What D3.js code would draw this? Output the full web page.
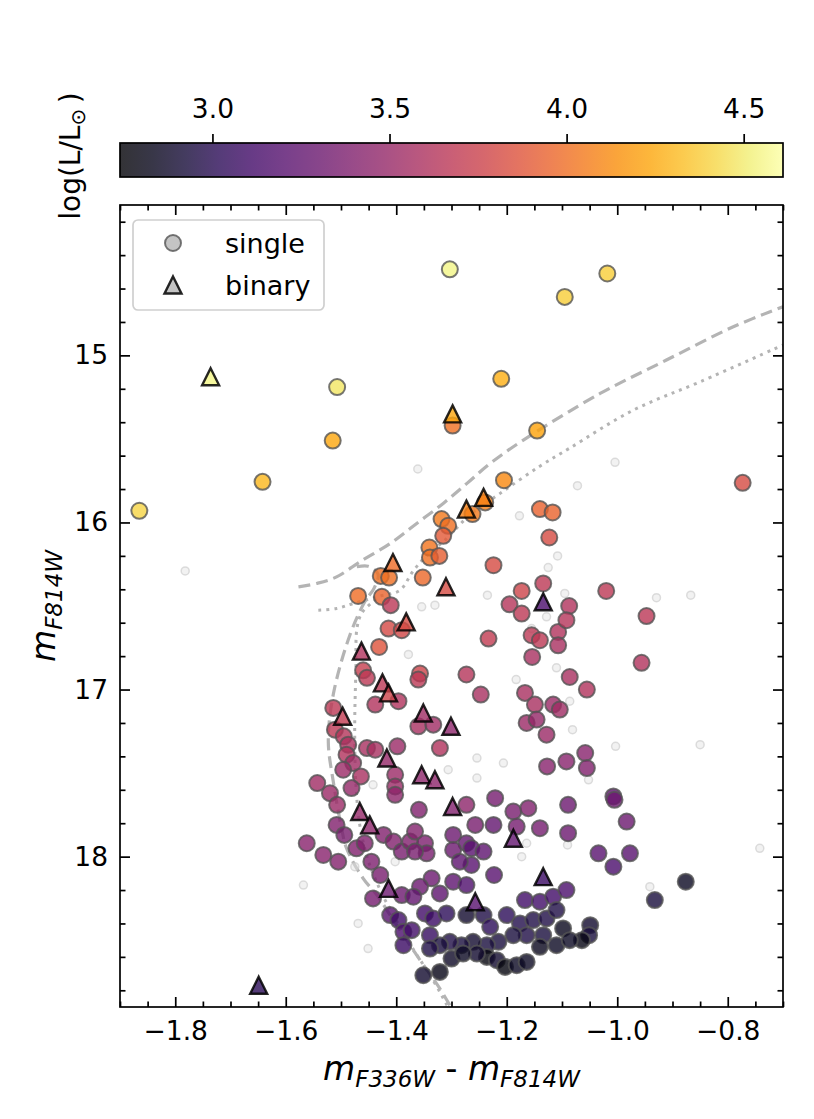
<!DOCTYPE html>
<html>
<head>
<meta charset="utf-8">
<script src="https://cdn.jsdelivr.net/npm/d3@7"></script>
<style>
  body { margin: 0; background: #fff; }
  text { font-family: "DejaVu Sans", sans-serif; }
</style>
</head>
<body>
<div id="chart"></div>
<script>

// colour index, magnitude, log(L/Lsun)
const singleStars = [
    [-1.303, 14.485, 4.55], [-1.018, 14.51, 4.39], [-1.095, 14.65, 4.39], [-1.507, 15.19, 4.48],
    [-1.210, 15.14, 4.27], [-1.298, 15.42, 4.01], [-1.515, 15.51, 4.24], [-1.145, 15.45, 4.22],
    [-1.865, 15.93, 4.42], [-1.642, 15.757, 4.30], [-0.773, 15.763, 3.82], [-1.205, 15.747, 4.12],
    [-1.318, 15.98, 4.05], [-1.306, 16.02, 4.01], [-1.315, 16.08, 3.90], [-1.262, 15.95, 4.05],
    [-1.239, 15.88, 4.08], [-1.340, 16.15, 4.03], [-1.339, 16.21, 4.01], [-1.322, 16.20, 3.92],
    [-1.428, 16.32, 4.01], [-1.413, 16.33, 4.01], [-1.352, 16.33, 3.97], [-1.469, 16.44, 4.00],
    [-1.426, 16.445, 3.95], [-1.410, 16.495, 3.67], [-1.140, 15.92, 3.94], [-1.117, 15.94, 3.95],
    [-1.123, 16.09, 3.82], [-1.224, 16.256, 3.82], [-1.134, 16.365, 3.68], [-1.173, 16.41, 3.77],
    [-1.020, 16.41, 3.68], [-1.195, 16.49, 3.64], [-1.087, 16.50, 3.62],
    [-1.414, 16.635, 3.80], [-1.390, 16.645, 3.79], [-1.431, 16.745, 3.86], [-1.460, 16.885, 3.73],
    [-1.453, 16.93, 3.68], [-1.438, 17.09, 3.62], [-1.396, 17.07, 3.62], [-1.357, 16.904, 3.77],
    [-1.360, 16.94, 3.68], [-1.233, 16.695, 3.71], [-1.273, 16.91, 3.64], [-1.247, 17.03, 3.58],
    [-1.360, 17.22, 3.58], [-1.333, 17.21, 3.54], [-1.514, 17.11, 3.68], [-1.511, 17.24, 3.68],
    [-1.495, 17.28, 3.64], [-1.487, 17.33, 3.60], [-1.490, 17.39, 3.62], [-1.478, 17.44, 3.54],
    [-1.496, 17.48, 3.52], [-1.464, 17.52, 3.58], [-1.543, 17.56, 3.54], [-1.481, 17.59, 3.49],
    [-1.520, 17.62, 3.52], [-1.507, 17.69, 3.52], [-1.508, 17.81, 3.39], [-1.494, 17.87, 3.36],
    [-1.562, 17.92, 3.43], [-1.532, 17.99, 3.43], [-1.505, 18.03, 3.41], [-1.453, 17.35, 3.58],
    [-1.438, 17.36, 3.58], [-1.398, 17.34, 3.52], [-1.402, 17.51, 3.52], [-1.402, 17.58, 3.52],
    [-1.402, 17.63, 3.45], [-1.321, 17.35, 3.62], [-1.359, 17.72, 3.39], [-1.273, 17.69, 3.45],
    [-1.221, 17.65, 3.34], [-1.188, 17.73, 3.36], [-1.161, 17.71, 3.39], [-1.257, 17.81, 3.36],
    [-1.224, 17.81, 3.26], [-1.182, 17.82, 3.34], [-1.140, 17.83, 3.34], [-1.089, 17.69, 3.30],
    [-1.089, 17.86, 3.30], [-1.472, 17.95, 3.39], [-1.457, 17.92, 3.39], [-1.445, 18.03, 3.38],
    [-1.429, 18.11, 3.36], [-1.423, 17.87, 3.39], [-1.405, 17.91, 3.39], [-1.390, 17.97, 3.36],
    [-1.375, 17.91, 3.39], [-1.366, 17.85, 3.41], [-1.348, 17.92, 3.38], [-1.345, 17.98, 3.36],
    [-1.366, 17.97, 3.36], [-1.297, 17.87, 3.30], [-1.273, 17.92, 3.26], [-1.264, 17.95, 3.21],
    [-1.242, 17.97, 3.24], [-1.297, 17.96, 3.30], [-1.264, 18.05, 3.21], [-1.285, 18.03, 3.24],
    [-1.336, 18.13, 3.30], [-1.357, 18.18, 3.30], [-1.442, 18.25, 3.34], [-1.390, 18.23, 3.30],
    [-1.369, 18.24, 3.26], [-1.321, 18.22, 3.24], [-1.297, 18.15, 3.24], [-1.273, 18.17, 3.17],
    [-1.223, 18.11, 3.21], [-1.167, 18.26, 3.11], [-1.140, 18.27, 3.11], [-1.116, 18.24, 3.11],
    [-1.092, 18.20, 3.15],
    [-1.173, 16.545, 3.68], [-1.155, 16.675, 3.68], [-1.140, 16.705, 3.68], [-1.107, 16.655, 3.62],
    [-1.092, 16.585, 3.64], [-1.107, 16.735, 3.58], [-1.154, 16.805, 3.58], [-1.086, 16.925, 3.58],
    [-1.167, 17.02, 3.58], [-1.149, 17.09, 3.58], [-1.116, 17.09, 3.52], [-1.104, 17.12, 3.54],
    [-1.164, 17.20, 3.52], [-1.146, 17.18, 3.49], [-1.128, 17.27, 3.52], [-1.127, 17.46, 3.43],
    [-1.092, 17.43, 3.43], [-0.947, 16.56, 3.67], [-0.956, 16.84, 3.62], [-1.055, 17.00, 3.62],
    [-1.058, 17.38, 3.43], [-1.055, 17.47, 3.39], [-1.007, 17.64, 3.24], [-1.005, 17.66, 3.30],
    [-0.983, 17.79, 3.30], [-1.034, 17.98, 3.21], [-0.977, 17.98, 3.21], [-1.007, 18.06, 3.15],
    [-0.876, 18.15, 2.85], [-0.932, 18.26, 2.93], [-1.049, 18.41, 2.89], [-1.051, 18.47, 2.93],
    [-1.064, 18.50, 2.80], [-1.098, 18.43, 2.83],
    [-1.411, 18.35, 3.21], [-1.396, 18.38, 3.11], [-1.387, 18.45, 3.15], [-1.372, 18.44, 3.11],
    [-1.387, 18.53, 3.08], [-1.348, 18.34, 3.11], [-1.333, 18.37, 3.08], [-1.339, 18.47, 3.06],
    [-1.309, 18.34, 3.02], [-1.273, 18.35, 2.89], [-1.242, 18.35, 2.96], [-1.230, 18.42, 3.02],
    [-1.200, 18.35, 3.02], [-1.176, 18.40, 2.98], [-1.152, 18.38, 2.96], [-1.128, 18.37, 2.96],
    [-1.110, 18.32, 2.96], [-1.134, 18.47, 2.93], [-1.164, 18.47, 2.96], [-1.188, 18.47, 2.93],
    [-1.215, 18.51, 2.93], [-1.236, 18.53, 2.93], [-1.261, 18.51, 2.89], [-1.282, 18.53, 2.93],
    [-1.303, 18.51, 2.96], [-1.321, 18.53, 2.93], [-1.339, 18.55, 2.96], [-1.236, 18.60, 2.78],
    [-1.254, 18.58, 2.89], [-1.218, 18.62, 2.89], [-1.203, 18.66, 2.78], [-1.182, 18.65, 2.85],
    [-1.164, 18.63, 2.85], [-1.140, 18.54, 2.83], [-1.110, 18.53, 2.85], [-1.086, 18.50, 2.85],
    [-1.321, 18.69, 2.81], [-1.351, 18.71, 2.89], [-1.300, 18.61, 2.87], [-1.279, 18.58, 2.85]
];

const binaryStars = [
    [-1.736, 15.128, 4.55], [-1.298, 15.35, 4.24], [-1.273, 15.92, 4.09], [-1.242, 15.85, 4.09],
    [-1.406, 16.24, 3.99], [-1.310, 16.385, 3.82], [-1.134, 16.475, 3.15], [-1.382, 16.595, 3.82],
    [-1.463, 16.77, 3.62], [-1.425, 16.96, 3.68], [-1.414, 17.02, 3.77], [-1.351, 17.14, 3.54],
    [-1.301, 17.22, 3.45], [-1.497, 17.16, 3.71], [-1.417, 17.41, 3.49], [-1.354, 17.51, 3.45],
    [-1.330, 17.54, 3.45], [-1.466, 17.73, 3.49], [-1.448, 17.81, 3.45], [-1.298, 17.70, 3.39],
    [-1.188, 17.89, 3.26], [-1.414, 18.19, 3.30], [-1.257, 18.27, 3.21], [-1.134, 18.12, 3.08],
    [-1.649, 18.77, 3.02]
];

// faint field stars in the background
const fieldStars = [
    [-1.782, 16.29], [-1.361, 15.68], [-1.004, 15.64], [-1.072, 15.78], [-1.177, 15.96],
    [-1.108, 16.20], [-1.125, 16.27], [-1.235, 16.435], [-1.095, 16.425], [-0.929, 16.45],
    [-0.867, 16.435], [-1.354, 16.505], [-1.330, 16.495], [-1.378, 16.79], [-1.254, 17.41],
    [-1.206, 17.44], [-1.306, 17.48], [-1.254, 17.53], [-1.442, 17.57], [-1.164, 17.92],
    [-1.173, 18.00], [-1.402, 18.03], [-1.475, 18.06], [-1.469, 18.40], [-1.451, 18.55],
    [-1.128, 16.565], [-1.086, 17.07], [-1.110, 16.87], [-1.155, 16.635], [-1.081, 17.24],
    [-1.003, 17.34], [-0.850, 17.33], [-1.052, 17.54], [-0.742, 17.95], [-0.941, 18.18],
    [-1.090, 17.93], [-1.568, 18.17], [-1.183, 16.94]
];

// isochrones
const dashedLower = [
    [-1.303, 18.89], [-1.321, 18.79], [-1.363, 18.59], [-1.387, 18.47], [-1.411, 18.35],
    [-1.435, 18.23], [-1.460, 18.13], [-1.490, 17.95], [-1.499, 17.83], [-1.514, 17.55],
    [-1.523, 17.31], [-1.514, 17.03], [-1.484, 16.675], [-1.457, 16.475], [-1.440, 16.393],
    [-1.433, 16.31], [-1.451, 16.262], [-1.484, 16.274]
];
const dashedUpper = [
    [-1.577, 16.386], [-1.544, 16.365], [-1.508, 16.326], [-1.466, 16.236], [-1.411, 16.126],
    [-1.363, 16.006], [-1.315, 15.886], [-1.272, 15.766], [-1.230, 15.647], [-1.170, 15.507],
    [-1.031, 15.228], [-0.911, 15.028], [-0.790, 14.829], [-0.700, 14.709]
];
const dottedLower = [
    [-1.308, 18.89], [-1.335, 18.73], [-1.370, 18.55], [-1.402, 18.37], [-1.429, 18.20],
    [-1.451, 18.02], [-1.466, 17.81], [-1.473, 17.57], [-1.475, 17.33], [-1.475, 17.15],
    [-1.473, 16.88], [-1.471, 16.63], [-1.462, 16.54], [-1.444, 16.48], [-1.429, 16.441]
];
const dottedUpper = [
    [-1.541, 16.525], [-1.508, 16.515], [-1.478, 16.485], [-1.429, 16.441], [-1.393, 16.405],
    [-1.371, 16.298], [-1.348, 16.208], [-1.312, 16.106], [-1.267, 15.956], [-1.212, 15.826],
    [-1.140, 15.663], [-1.086, 15.555], [-0.971, 15.328], [-0.850, 15.158], [-0.700, 14.938]
];

const xMajorTicks = [-1.8, -1.6, -1.4, -1.2, -1.0, -0.8];
const yMajorTicks = [15, 16, 17, 18];
const colorbarTicks = [3.0, 3.5, 4.0, 4.5];
const legendLabels = ["single", "binary"];

// ---------------------------------------------------------------

let width = 814, height = 1119;
let plot = {left: 120, right: 783, top: 205, bottom: 1007};
let cbar = {top: 143, bottom: 177};

let svg = d3.select("#chart").append("svg")
    .attr("width", width)
    .attr("height", height);

svg.append("rect").attr("width", width).attr("height", height).attr("fill", "white");

let x = d3.scaleLinear().domain([-1.9, -0.7]).range([plot.left, plot.right]);
let y = d3.scaleLinear().domain([14.1, 18.9]).range([plot.top, plot.bottom]);
let cScale = d3.scaleLinear().domain([2.739, 4.611]).range([plot.left, plot.right]);
let colour = d3.scaleSequential(d3.interpolateInferno).domain([2.739, 4.611]);

// matplotlib style '^' marker (as wide as it is tall)
const mplTriangle = {
    draw(ctx, size) {
        let h = Math.sqrt(size) / 2;
        ctx.moveTo(0, -h);
        ctx.lineTo(h, h);
        ctx.lineTo(-h, h);
        ctx.closePath();
    }
};

// ---- colour bar
let defs = svg.append("defs");
let grad = defs.append("linearGradient").attr("id", "cbarGrad");
d3.range(0, 1.0001, 0.05).forEach(t => {
    grad.append("stop")
        .attr("offset", t)
        .attr("stop-color", d3.interpolateInferno(t))
        .attr("stop-opacity", 0.8);
});

svg.append("rect")
    .attr("x", plot.left)
    .attr("y", cbar.top)
    .attr("width", plot.right - plot.left)
    .attr("height", cbar.bottom - cbar.top)
    .attr("fill", "url(#cbarGrad)")
    .attr("stroke", "black")
    .attr("stroke-width", 1.7);

let cAxis = svg.append("g")
    .attr("transform", "translate(0," + cbar.top + ")")
    .call(d3.axisTop(cScale).tickValues(colorbarTicks).tickFormat(d3.format(".1f"))
        .tickSize(9).tickPadding(16));
cAxis.select(".domain").remove();
cAxis.selectAll("line").attr("stroke-width", 1.7);
cAxis.selectAll("text").attr("font-size", 26.5).attr("font-family", "DejaVu Sans").attr("fill", "black");

let cLabel = svg.append("text")
    .attr("transform", "translate(80,156) rotate(-90)")
    .attr("text-anchor", "middle")
    .attr("font-size", 28);
cLabel.append("tspan").text("log(L/L");
cLabel.append("tspan").attr("font-size", 20).attr("dy", 5).text("\u2299");
cLabel.append("tspan").attr("dy", -5).text("\u2009)");

// ---- main panel
let g = svg.append("g");

let line = d3.line().x(d => x(d[0])).y(d => y(d[1])).curve(d3.curveCatmullRom);

defs.append("clipPath").attr("id", "plotClip").append("rect")
    .attr("x", plot.left).attr("y", plot.top)
    .attr("width", plot.right - plot.left).attr("height", plot.bottom - plot.top);

let lines = g.append("g").attr("clip-path", "url(#plotClip)");

[dashedLower, dashedUpper].forEach(d => {
    lines.append("path")
        .datum(d)
        .attr("d", line)
        .attr("fill", "none")
        .attr("stroke", "#b4b4b4")
        .attr("stroke-width", 3.2)
        .attr("stroke-dasharray", "12,6");
});
[dottedLower, dottedUpper].forEach(d => {
    lines.append("path")
        .datum(d)
        .attr("d", line)
        .attr("fill", "none")
        .attr("stroke", "#b4b4b4")
        .attr("stroke-width", 3)
        .attr("stroke-dasharray", "3,5");
});

g.selectAll(".field")
    .data(fieldStars)
    .enter().append("circle")
    .attr("class", "field")
    .attr("cx", d => x(d[0]))
    .attr("cy", d => y(d[1]))
    .attr("r", 4)
    .attr("fill", "#e6e6e6")
    .attr("fill-opacity", 0.5)
    .attr("stroke", "#c8c8c8")
    .attr("stroke-opacity", 0.6)
    .attr("stroke-width", 1.5);

g.selectAll(".single")
    .data(singleStars)
    .enter().append("circle")
    .attr("class", "single")
    .attr("cx", d => x(d[0]))
    .attr("cy", d => y(d[1]))
    .attr("r", 8)
    .attr("fill", d => colour(d[2]))
    .attr("fill-opacity", 0.8)
    .attr("stroke", "#555")
    .attr("stroke-opacity", 0.8)
    .attr("stroke-width", 2);

g.selectAll(".binary")
    .data(binaryStars)
    .enter().append("path")
    .attr("class", "binary")
    .attr("transform", d => "translate(" + x(d[0]) + "," + y(d[1]) + ")")
    .attr("d", d3.symbol().type(mplTriangle).size(289))
    .attr("fill", d => colour(d[2]))
    .attr("fill-opacity", 0.8)
    .attr("stroke", "black")
    .attr("stroke-opacity", 0.85)
    .attr("stroke-width", 2.4)
    .attr("stroke-linejoin", "miter");

// ---- axes (ticks inward on all four sides)
function styleAxis(sel) {
    sel.select(".domain").remove();
    sel.selectAll("line").attr("stroke", "black").attr("stroke-width", 1.7);
    sel.selectAll("text").attr("font-size", 26.5).attr("font-family", "DejaVu Sans").attr("fill", "black");
}

let xMinor = d3.range(-1.9, -0.699, 0.05).map(v => +v.toFixed(2)).filter(v => !xMajorTicks.includes(v));
let yMinor = d3.range(14.2, 18.9, 0.2).map(v => +v.toFixed(1)).filter(v => !yMajorTicks.includes(v));

svg.append("g").attr("transform", "translate(0," + plot.bottom + ")")
    .call(d3.axisBottom(x).tickValues(xMajorTicks).tickFormat(d3.format(".1f")).tickSize(-10).tickPadding(14))
    .call(styleAxis);
svg.append("g").attr("transform", "translate(0," + plot.bottom + ")")
    .call(d3.axisBottom(x).tickValues(xMinor).tickFormat("").tickSize(-5.5))
    .call(styleAxis);
svg.append("g").attr("transform", "translate(0," + plot.top + ")")
    .call(d3.axisTop(x).tickValues(xMajorTicks).tickFormat("").tickSize(-10))
    .call(styleAxis);
svg.append("g").attr("transform", "translate(0," + plot.top + ")")
    .call(d3.axisTop(x).tickValues(xMinor).tickFormat("").tickSize(-5.5))
    .call(styleAxis);

svg.append("g").attr("transform", "translate(" + plot.left + ",0)")
    .call(d3.axisLeft(y).tickValues(yMajorTicks).tickFormat(d3.format("d")).tickSize(-10).tickPadding(12))
    .call(styleAxis);
svg.append("g").attr("transform", "translate(" + plot.left + ",0)")
    .call(d3.axisLeft(y).tickValues(yMinor).tickFormat("").tickSize(-5.5))
    .call(styleAxis);
svg.append("g").attr("transform", "translate(" + plot.right + ",0)")
    .call(d3.axisRight(y).tickValues(yMajorTicks).tickFormat("").tickSize(-10))
    .call(styleAxis);
svg.append("g").attr("transform", "translate(" + plot.right + ",0)")
    .call(d3.axisRight(y).tickValues(yMinor).tickFormat("").tickSize(-5.5))
    .call(styleAxis);

svg.append("rect")
    .attr("x", plot.left)
    .attr("y", plot.top)
    .attr("width", plot.right - plot.left)
    .attr("height", plot.bottom - plot.top)
    .attr("fill", "none")
    .attr("stroke", "black")
    .attr("stroke-width", 1.7);

// ---- axis labels
function magLabel(sel, parts) {
    parts.forEach((p, i) => {
        if (i > 0) sel.append("tspan").attr("dy", -7).text(" - ");
        sel.append("tspan").attr("font-style", "italic").text("m");
        sel.append("tspan").attr("font-style", "italic").attr("font-size", 23).attr("dy", 7).text(p);
    });
}

let xLabel = svg.append("text")
    .attr("x", (plot.left + plot.right) / 2)
    .attr("y", 1080)
    .attr("text-anchor", "middle")
    .attr("font-size", 33);
magLabel(xLabel, ["F336W", "F814W"]);

let yLabel = svg.append("text")
    .attr("transform", "translate(55," + (plot.top + plot.bottom) / 2 + ") rotate(-90)")
    .attr("text-anchor", "middle")
    .attr("font-size", 33);
magLabel(yLabel, ["F814W"]);

// ---- legend
let legend = svg.append("g");
legend.append("rect")
    .attr("x", 133).attr("y", 220)
    .attr("width", 191).attr("height", 90)
    .attr("rx", 5)
    .attr("fill", "white")
    .attr("fill-opacity", 0.8)
    .attr("stroke", "#cfcfcf")
    .attr("stroke-width", 1.7);

legend.append("circle")
    .attr("cx", 173).attr("cy", 243).attr("r", 8)
    .attr("fill", "#c4c4c4")
    .attr("stroke", "#555").attr("stroke-opacity", 0.8).attr("stroke-width", 2);
legend.append("path")
    .attr("transform", "translate(173,285)")
    .attr("d", d3.symbol().type(mplTriangle).size(289))
    .attr("fill", "#c4c4c4")
    .attr("stroke", "black").attr("stroke-opacity", 0.85).attr("stroke-width", 2.4);

legend.selectAll(".leg-text")
    .data(legendLabels)
    .enter().append("text")
    .attr("class", "leg-text")
    .attr("x", 225)
    .attr("y", (d, i) => 253 + i * 41.5)
    .attr("font-size", 27)
    .text(d => d);

</script>
</body>
</html>
